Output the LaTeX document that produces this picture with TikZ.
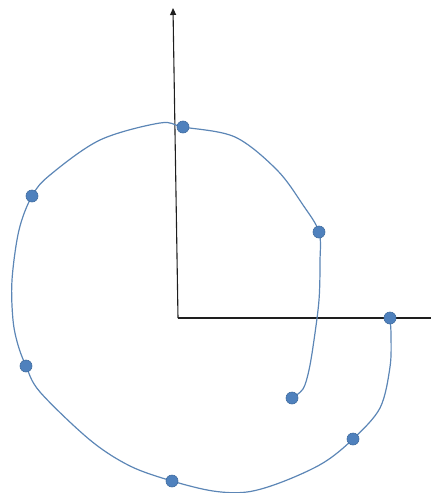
\documentclass[tikz,border=0pt]{standalone}
\usepackage{xcolor}
\usepackage{tikz}
\usetikzlibrary{arrows.meta,calc}
\definecolor{spblue}{RGB}{79,129,189}
\definecolor{spedge}{RGB}{64,108,160}
\definecolor{spline}{RGB}{92,134,182}
\definecolor{spink}{RGB}{30,30,30}

\begin{document}
\begin{tikzpicture}[x=1pt,y=-1pt,
    pt/.style={circle,fill=spblue,draw=spedge,line width=.6pt,inner sep=0pt,minimum size=12pt},
    axis/.style={spink,line width=1.1pt}]
  \useasboundingbox (0,0) rectangle (431,493);
  % axes
  \coordinate (o) at (178,318);
  \coordinate (ytop) at (173,8);
  \coordinate (xend) at (431,318);
  \draw[axis,-{Triangle[length=7pt,width=6pt]}] (o) -- (ytop);
  \draw[axis] (o) -- (xend);
  % spiral, from the inside out
  \coordinate (s1) at (292,398);
  \coordinate (s2) at (319,232);
  \coordinate (s3) at (183,127);
  \coordinate (s4) at (32,196);
  \coordinate (s5) at (26,366);
  \coordinate (s6) at (172,481);
  \coordinate (s7) at (353,439);
  \coordinate (s8) at (390,318);
  \draw[spline,line width=1.2pt] plot[smooth,tension=.55] coordinates
    {(s1)(303,389)(309,370)(314,340)(319,300)(320,262)(s2)
     (303,205)(277,170)(235,137)(s3)(160,123)(100,140)(50,175)(s4)
     (19,230)(12,280)(13,320)(18,345)(s5)(40,392)(90,440)(130,466)(s6)
     (213,491)(247,492)(282,482)(323,463)(s7)(380,408)(390,367)(391,335)(s8)};
  \foreach \i in {1,...,8} \node[pt] (p\i) at (s\i) {};
\end{tikzpicture}
\end{document}
